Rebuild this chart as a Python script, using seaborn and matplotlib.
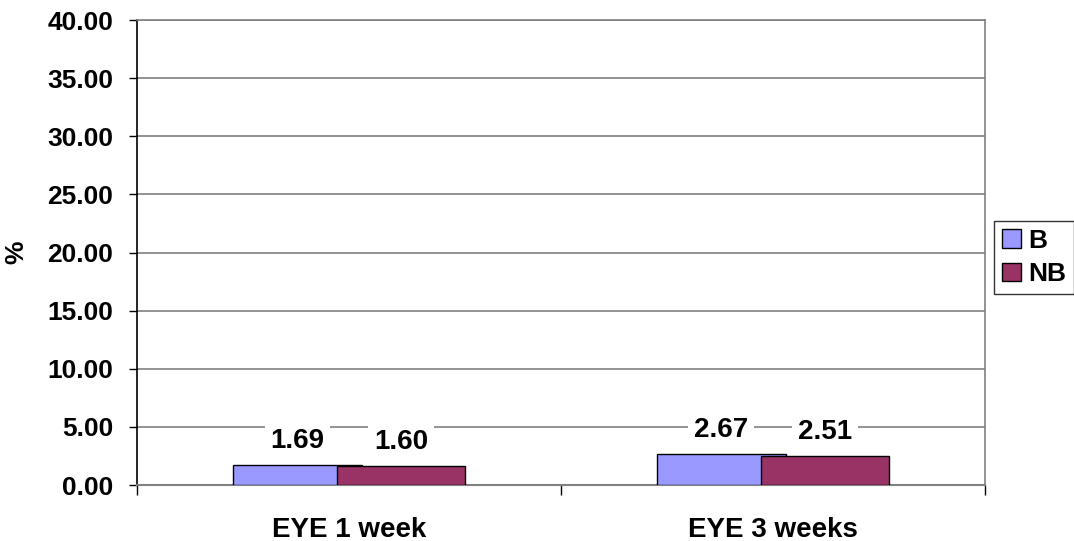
import matplotlib
matplotlib.use("Agg")
import matplotlib.pyplot as plt
import seaborn as sns
import pandas as pd
import numpy as np
from matplotlib.patches import Patch

# Data
categories = ["EYE 1 week", "EYE 3 weeks"]
series_names = ["B", "NB"]
values_b = [1.69, 2.67]
values_nb = [1.60, 2.51]
yticks = [0, 5, 10, 15, 20, 25, 30, 35, 40]

colors = {"B": "#9999FF", "NB": "#993366"}

sns.set_theme(style="white")
plt.rcParams["font.family"] = ["Liberation Sans", "DejaVu Sans"]
plt.rcParams["font.weight"] = "bold"
plt.rcParams["text.color"] = "black"
plt.rcParams["axes.labelcolor"] = "black"
plt.rcParams["xtick.color"] = "black"
plt.rcParams["ytick.color"] = "black"

fig = plt.figure(figsize=(10.74, 5.41), dpi=100)
ax = fig.add_axes([0.1276, 0.1035, 0.7896, 0.8595])

# overlapping bar layout: each bar 0.304 wide, centres 0.245 apart
bar_w = 0.304
shift = 0.1225
idx = np.arange(len(categories))
df = pd.DataFrame({
    "pos": np.concatenate([idx - shift, idx + shift]),
    "value": values_b + values_nb,
    "series": ["B"] * len(values_b) + ["NB"] * len(values_nb),
})

for name in series_names:
    sub = df[df["series"] == name]
    sns.barplot(data=sub, x="pos", y="value", native_scale=True, width=bar_w,
                color=colors[name], saturation=1, edgecolor="black",
                linewidth=1.0, ax=ax, errorbar=None, zorder=3)

# value labels
for _, row in df.iterrows():
    ax.annotate(f"{row['value']:.2f}", xy=(row["pos"], row["value"]),
                xytext=(0, 8), textcoords="offset points",
                ha="center", va="bottom", fontsize=20, fontweight="bold",
                color="black", zorder=5,
                bbox=dict(boxstyle="square,pad=0.2", fc="white", ec="none"))

ax.set_xlim(-0.5, len(categories) - 0.5)
ax.set_ylim(0, 40)
ax.set_yticks(yticks)
ax.set_yticklabels([f"{v:.2f}" for v in yticks], fontsize=19, fontweight="bold")
ax.set_xticks(idx)
ax.set_xticklabels(categories, fontsize=20, fontweight="bold")
ax.set_xticks(np.arange(-0.5, len(categories), 1.0), minor=True)
ax.tick_params(axis="x", which="major", length=0, pad=23)
ax.tick_params(axis="x", which="minor", length=7, width=1, color="black",
               direction="out", bottom=True)
ax.tick_params(axis="y", length=6, width=1, color="black", direction="out",
               pad=11, left=True)

ax.set_xlabel("")
ax.set_ylabel("%", fontsize=19, fontweight="bold", color="black")
ax.yaxis.set_label_coords(-0.128, 0.5)

ax.yaxis.grid(True, color="#808080", linewidth=1.2, zorder=0)
ax.set_axisbelow(True)
for side in ["top", "right"]:
    ax.spines[side].set_color("#808080")
    ax.spines[side].set_linewidth(1.2)
ax.spines["left"].set_color("black")
ax.spines["left"].set_linewidth(1.2)
ax.spines["bottom"].set_color("#808080")
ax.spines["bottom"].set_linewidth(1.5)

handles = [Patch(facecolor=colors[n], edgecolor="black", linewidth=1, label=n)
           for n in series_names]
leg = fig.legend(handles=handles, loc="center", bbox_to_anchor=(0.963, 0.524),
                 frameon=True, fancybox=False, prop={"weight": "bold", "size": 19},
                 handlelength=0.7, handleheight=0.7, handletextpad=0.3,
                 borderpad=0.3, labelspacing=0.35, borderaxespad=0)
leg.get_frame().set_edgecolor("black")
leg.get_frame().set_linewidth(1)
for t in leg.get_texts():
    t.set_color("black")

fig.savefig("out.png", dpi=100)
